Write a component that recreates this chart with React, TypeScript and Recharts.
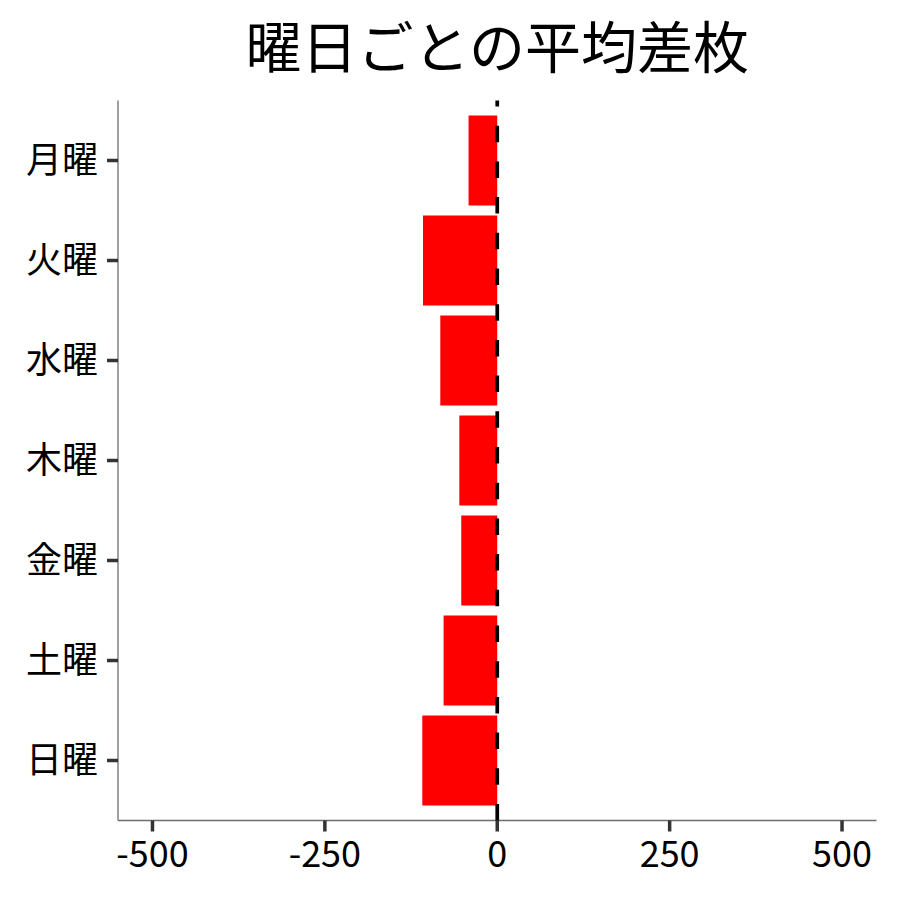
import React from 'react';
import { BarChart, Bar, XAxis, YAxis, ReferenceLine } from 'recharts';

const days = ['月曜', '火曜', '水曜', '木曜', '金曜', '土曜', '日曜'];
const avgDiff = [-41.6, -107.7, -82.6, -55, -52.2, -77.8, -108.7];
const xTicks = [-500, -250, 0, 250, 500];
const xDomain = [-550, 550];
const title = '曜日ごとの平均差枚';

const data = days.map((d, i) => ({ day: d, value: avgDiff[i] }));
const FONT = '"Noto Sans CJK JP", "Noto Sans", sans-serif';

export default function App() {
  return (
    <div style={{ position: 'relative', width: 900, height: 900, fontFamily: FONT, background: '#fff' }}>
      <style>{'body{margin:0}'}</style>
      <div
        style={{
          position: 'absolute',
          top: 16,
          left: 118,
          width: 758.5,
          textAlign: 'center',
          fontSize: 56,
          lineHeight: '56px',
          color: '#000',
        }}
      >
        {title}
      </div>
      <div style={{ position: 'absolute', top: 0, left: 0 }}>
        <BarChart
          width={900}
          height={900}
          data={data}
          layout="vertical"
          margin={{ top: 100.5, right: 23.5, left: 0, bottom: 0 }}
        >
          <XAxis
            type="number"
            domain={xDomain}
            ticks={xTicks}
            height={79.5}
            allowDataOverflow
            axisLine={{ stroke: '#6e6e6e', strokeWidth: 1.3 }}
            tickLine={{ stroke: '#333', strokeWidth: 3.5 }}
            tickSize={11}
            tickMargin={10}
            tick={{ fill: '#000', fontSize: 36, fontFamily: FONT }}
            interval={0}
          />
          <YAxis
            type="category"
            dataKey="day"
            width={118}
            padding={{ top: 10, bottom: 10 }}
            axisLine={{ stroke: '#6e6e6e', strokeWidth: 1.3 }}
            tickLine={{ stroke: '#333', strokeWidth: 3.5 }}
            tickSize={11}
            tickMargin={9}
            tick={{ fill: '#000', fontSize: 36, fontFamily: FONT }}
            interval={0}
          />
          <Bar dataKey="value" fill="#ff0000" barSize={90} isAnimationActive={false} />
        </BarChart>
      </div>
      <div style={{ position: 'absolute', top: 0, left: 0, pointerEvents: 'none' }}>
        <BarChart
          width={900}
          height={900}
          data={data}
          layout="vertical"
          margin={{ top: 100.5, right: 23.5, left: 118, bottom: 79.5 }}
        >
          <XAxis type="number" domain={xDomain} allowDataOverflow hide />
          <YAxis type="category" dataKey="day" hide />
          <ReferenceLine x={0} stroke="#000" strokeWidth={3.7} strokeDasharray="16.5 19.2" />
        </BarChart>
      </div>
    </div>
  );
}
